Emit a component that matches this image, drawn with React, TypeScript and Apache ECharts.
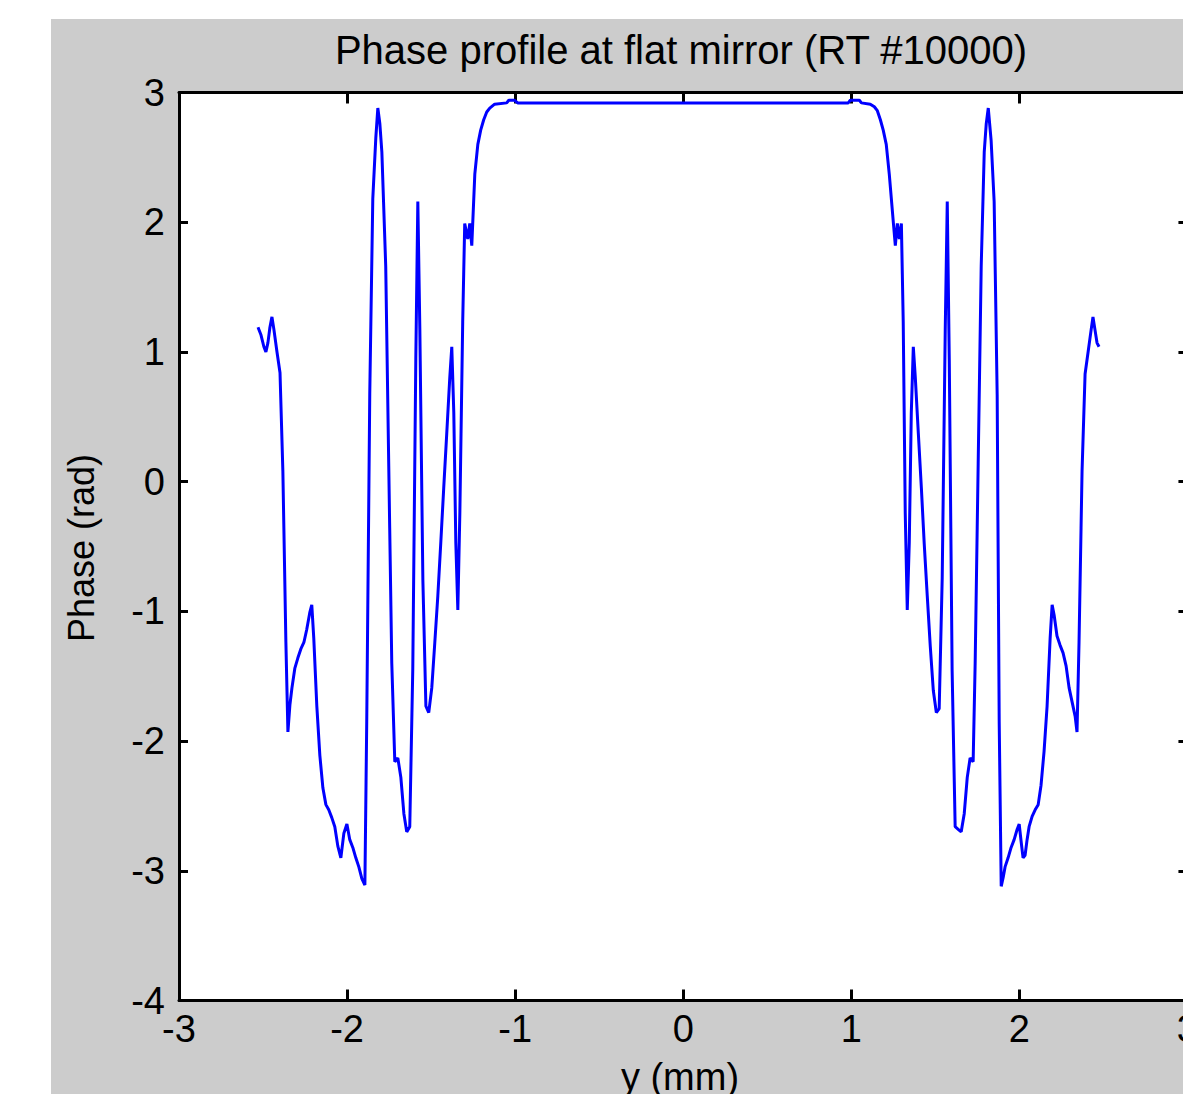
import React, { useEffect, useRef } from "react";
import * as echarts from "echarts";

const titleText = "Phase profile at flat mirror (RT #10000)";
const xAxisName = "y (mm)";
const yAxisName = "Phase (rad)";

const positionMm = [
  -2.530, -2.512, -2.495, -2.483, -2.471, -2.459, -2.447, -2.435, -2.417, -2.399,
  -2.382, -2.364, -2.352, -2.340, -2.328, -2.311, -2.293, -2.275, -2.257, -2.240,
  -2.222, -2.210, -2.198, -2.180, -2.162, -2.144, -2.126, -2.109, -2.091, -2.073,
  -2.055, -2.037, -2.019, -2.001, -1.984, -1.966, -1.948, -1.930, -1.912, -1.894,
  -1.883, -1.865, -1.847, -1.829, -1.817, -1.805, -1.793, -1.770, -1.752, -1.734,
  -1.716, -1.698, -1.680, -1.662, -1.645, -1.627, -1.609, -1.591, -1.579, -1.567,
  -1.549, -1.531, -1.514, -1.496, -1.478, -1.460, -1.442, -1.425, -1.407, -1.389,
  -1.377, -1.365, -1.353, -1.341, -1.329, -1.312, -1.300, -1.282, -1.270, -1.258,
  -1.240, -1.222, -1.205, -1.187, -1.169, -1.151, -1.122, -1.050, -1.038, -1.003,
  -0.985, 0, 0.982, 0.994, 1.048, 1.060, 1.113, 1.137, 1.155, 1.173,
  1.190, 1.208, 1.226, 1.250, 1.262, 1.274, 1.286, 1.298, 1.309, 1.321,
  1.333, 1.345, 1.357, 1.369, 1.381, 1.399, 1.417, 1.434, 1.452, 1.470,
  1.488, 1.506, 1.523, 1.541, 1.559, 1.571, 1.583, 1.600, 1.618, 1.636,
  1.654, 1.672, 1.690, 1.707, 1.725, 1.737, 1.755, 1.773, 1.791, 1.803,
  1.815, 1.832, 1.850, 1.868, 1.880, 1.892, 1.904, 1.915, 1.933, 1.951,
  1.969, 1.987, 1.999, 2.011, 2.022, 2.034, 2.046, 2.058, 2.076, 2.094,
  2.112, 2.129, 2.147, 2.165, 2.183, 2.195, 2.207, 2.224, 2.242, 2.260,
  2.278, 2.296, 2.314, 2.332, 2.343, 2.355, 2.373, 2.391, 2.409, 2.427,
  2.438, 2.450, 2.462, 2.474,
];

const phaseRad = [
  1.19, 1.13, 1.04, 1.00, 1.07, 1.19, 1.27, 1.17, 1.00, 0.84,
  0.08, -1.24, -1.93, -1.72, -1.59, -1.44, -1.36, -1.29, -1.24, -1.14,
  -1.01, -0.95, -1.21, -1.73, -2.11, -2.36, -2.49, -2.53, -2.59, -2.66,
  -2.81, -2.90, -2.71, -2.64, -2.76, -2.82, -2.90, -2.97, -3.06, -3.11,
  -1.85, 0.68, 2.18, 2.65, 2.88, 2.76, 2.54, 1.66, 0.12, -1.40,
  -2.16, -2.13, -2.28, -2.56, -2.70, -2.66, -1.44, 0.95, 2.16, 1.17,
  -0.76, -1.73, -1.78, -1.59, -1.24, -0.88, -0.46, -0.05, 0.37, 0.80,
  1.04, 0.53, -0.47, -0.99, -0.24, 1.23, 1.99, 1.87, 1.99, 1.82,
  2.37, 2.60, 2.71, 2.79, 2.85, 2.88, 2.91, 2.92, 2.94, 2.94,
  2.92, 2.92, 2.92, 2.94, 2.94, 2.92, 2.91, 2.89, 2.86, 2.79,
  2.71, 2.60, 2.37, 2.00, 1.82, 1.99, 1.87, 1.99, 1.23, -0.24,
  -0.99, -0.47, 0.53, 1.04, 0.80, 0.37, -0.05, -0.48, -0.88, -1.27,
  -1.61, -1.78, -1.75, -0.74, 1.17, 2.16, 0.94, -1.46, -2.66, -2.68,
  -2.70, -2.56, -2.28, -2.13, -2.16, -1.40, 0.14, 1.66, 2.54, 2.76,
  2.88, 2.63, 2.16, 0.67, -1.85, -3.12, -3.05, -2.97, -2.90, -2.82,
  -2.76, -2.68, -2.64, -2.78, -2.90, -2.88, -2.76, -2.66, -2.58, -2.53,
  -2.49, -2.34, -2.08, -1.73, -1.21, -0.95, -1.03, -1.19, -1.26, -1.32,
  -1.42, -1.59, -1.70, -1.81, -1.93, -1.24, 0.08, 0.83, 1.00, 1.17,
  1.27, 1.17, 1.07, 1.04,
];

const xMin = -3;
const xMax = 3;
const yMin = -4;
const yMax = 3;

const FONT = "'Liberation Sans', Arial, sans-serif";

export default function App() {
  const ref = useRef<HTMLDivElement>(null);

  useEffect(() => {
    if (!ref.current) return;
    document.body.style.overflow = "hidden";
    const chart = echarts.init(ref.current, undefined, { renderer: "svg" });
    const data = positionMm.map((x, i) => [x, phaseRad[i]]);

    const axisLine = { show: true, onZero: false, lineStyle: { color: "#000", width: 3 } };
    const tickStyle = { color: "#000", width: 3 };

    chart.setOption({
      animation: false,
      backgroundColor: "#cccccc",
      grid: [
        {
          left: 128,
          top: 73.5,
          right: 10.5,
          bottom: 93.5,
          show: true,
          backgroundColor: "#ffffff",
          borderWidth: 0,
        },
      ],
      xAxis: [
        {
          type: "value",
          min: xMin,
          max: xMax,
          interval: 1,
          position: "bottom",
          axisLine,
          axisTick: { show: true, inside: true, length: 11, lineStyle: tickStyle },
          axisLabel: {
            show: true,
            margin: 9,
            fontSize: 38,
            color: "#000",
            fontFamily: FONT,
          },
          splitLine: { show: false },
        },
        {
          type: "value",
          min: xMin,
          max: xMax,
          interval: 1,
          position: "top",
          axisLine,
          axisTick: { show: true, inside: true, length: 11, lineStyle: tickStyle },
          axisLabel: { show: false },
          splitLine: { show: false },
        },
      ],
      yAxis: [
        {
          type: "value",
          min: yMin,
          max: yMax,
          interval: 1,
          position: "left",
          axisLine,
          axisTick: { show: true, inside: true, length: 9, lineStyle: tickStyle },
          axisLabel: {
            show: true,
            margin: 14,
            fontSize: 38,
            color: "#000",
            fontFamily: FONT,
          },
          splitLine: { show: false },
        },
        {
          type: "value",
          min: yMin,
          max: yMax,
          interval: 1,
          position: "right",
          axisLine,
          axisTick: { show: true, inside: true, length: 9, lineStyle: tickStyle },
          axisLabel: { show: false },
          splitLine: { show: false },
        },
      ],
      graphic: [
        {
          type: "text",
          x: 630,
          y: 31,
          style: {
            text: titleText,
            fontSize: 40,
            fontFamily: FONT,
            fill: "#000",
            textAlign: "center",
            textVerticalAlign: "middle",
          },
        },
        {
          type: "text",
          x: 629,
          y: 1058,
          style: {
            text: xAxisName,
            fontSize: 38,
            fontFamily: FONT,
            fill: "#000",
            textAlign: "center",
            textVerticalAlign: "middle",
          },
        },
        {
          type: "text",
          x: 30,
          y: 529,
          rotation: Math.PI / 2,
          style: {
            text: yAxisName,
            fontSize: 36,
            fontFamily: FONT,
            fill: "#000",
            textAlign: "center",
            textVerticalAlign: "middle",
          },
        },
      ],
      series: [
        {
          type: "line",
          xAxisIndex: 0,
          yAxisIndex: 0,
          data,
          showSymbol: false,
          symbol: "none",
          lineStyle: { color: "#0000ff", width: 3 },
          clip: true,
        },
      ],
    });

    return () => {
      chart.dispose();
    };
  }, []);

  return (
    <div
      ref={ref}
      style={{ position: "fixed", left: 51, top: 19, width: 1150, height: 1075 }}
    />
  );
}
